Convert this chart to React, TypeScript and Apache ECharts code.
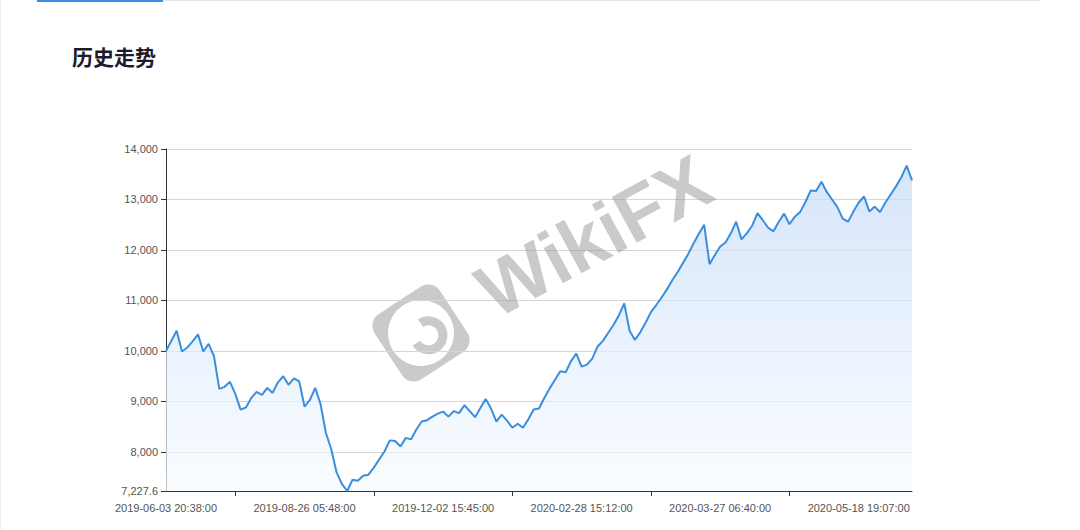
import React, { useEffect, useRef } from "react";
import * as echarts from "echarts";

const tickLabels = [
  "2019-06-03 20:38:00",
  "2019-08-26 05:48:00",
  "2019-12-02 15:45:00",
  "2020-02-28 15:12:00",
  "2020-03-27 06:40:00",
  "2020-05-18 19:07:00",
];

const values = [
  10000, 10200, 10400, 9990, 10070, 10190, 10330, 9990, 10140, 9900,
  9250, 9290, 9390, 9150, 8840, 8880, 9070, 9190, 9130, 9270,
  9170, 9380, 9500, 9330, 9460, 9400, 8897, 9030, 9270, 8950,
  8380, 8060, 7600, 7370, 7227.6, 7450, 7430, 7530, 7550, 7690,
  7850, 8010, 8230, 8217, 8110, 8280, 8250, 8450, 8605, 8630,
  8700, 8760, 8800, 8700, 8810, 8770, 8925, 8810, 8690, 8870,
  9050, 8860, 8600, 8740, 8620, 8480, 8560, 8480, 8650, 8840,
  8860, 9070, 9260, 9430, 9600, 9580, 9800, 9950, 9690, 9730,
  9850, 10090, 10200, 10360, 10520, 10710, 10940, 10400, 10220, 10370,
  10560, 10770, 10910, 11060, 11220, 11400, 11560, 11740, 11920, 12130,
  12320, 12500, 11720, 11900, 12070, 12150, 12330, 12560, 12210, 12330,
  12480, 12730, 12590, 12440, 12370, 12560, 12720, 12510, 12660, 12750,
  12950, 13180, 13170, 13350, 13150, 13000, 12850, 12620, 12560, 12760,
  12940, 13060, 12760, 12860, 12750, 12940, 13100, 13260, 13440, 13670,
  13380,
];

const labelEvery = 26;
const categories = values.map((_, i) =>
  i % labelEvery === 0 ? tickLabels[i / labelEvery] : "p" + i
);

const yMin = 7227.6;
const yMax = 14000;

export default function App() {
  const ref = useRef<HTMLDivElement>(null);
  useEffect(() => {
    if (!ref.current) return;
    const chart = echarts.init(ref.current, undefined, { renderer: "svg" });
    const wm = "rgba(150,150,150,0.5)";
    chart.setOption({
      animation: false,
      grid: { left: 166, right: 168, top: 149, bottom: 39 },
      xAxis: {
        type: "category",
        data: categories,
        boundaryGap: false,
        axisLine: { lineStyle: { color: "#333", width: 1 } },
        axisTick: {
          interval: (i: number) => i % labelEvery === labelEvery / 2,
          length: 5,
          lineStyle: { color: "#333" },
        },
        axisLabel: {
          interval: (i: number) => i % labelEvery === 0,
          color: "#555",
          fontSize: 11,
          fontFamily: "Liberation Sans",
          margin: 11,
        },
      },
      yAxis: {
        type: "value",
        min: yMin,
        max: yMax,
        axisLine: { show: true, lineStyle: { color: "#333" } },
        axisTick: { show: true, length: 5, lineStyle: { color: "#333" } },
        axisLabel: {
          color: "#555",
          fontSize: 11,
          fontFamily: "Liberation Sans",
          margin: 8,
        },
        splitLine: { lineStyle: { color: "#d6d6d6" } },
      },
      series: [
        {
          type: "line",
          data: values,
          showSymbol: false,
          symbol: "none",
          lineStyle: { color: "#3a8ee0", width: 2 },
          areaStyle: {
            color: new echarts.graphic.LinearGradient(0, 0, 0, 1, [
              { offset: 0, color: "#c6dbf8" },
              { offset: 1, color: "#f7fcff" },
            ]),
          },
        },
      ],
      graphic: [
        { type: "rect", left: 0, top: 0, shape: { width: 1, height: 530 }, style: { fill: "#efefef" } },
        { type: "rect", left: 37, top: 0, shape: { width: 1003, height: 1 }, style: { fill: "#e3e3e3" } },
        { type: "rect", left: 37, top: 0, shape: { width: 126, height: 2 }, style: { fill: "#3b8de0" } },
        {
          type: "text",
          x: 72,
          y: 56,
          style: {
            text: "历史走势",
            font: 'bold 21px "Noto Sans CJK SC"',
            fill: "#1a1c2c",
            textVerticalAlign: "middle",
            verticalAlign: "middle",
          },
        },
        {
          type: "group",
          x: 421,
          y: 333,
          rotation: 0.58,
          z: 100,
          children: [
            { type: "rect", shape: { x: -39, y: -39, width: 78, height: 78, r: 14 }, style: { fill: wm } },
            { type: "circle", shape: { cx: 0, cy: 0, r: 33 }, style: { fill: "#fff" } },
            {
              type: "sector",
              shape: { cx: 5, cy: 6, r: 19, r0: 10, startAngle: -Math.PI / 2, endAngle: Math.PI, clockwise: true },
              style: { fill: wm },
            },
          ],
        },
        {
          type: "text",
          x: 594,
          y: 236,
          rotation: 0.5,
          z: 100,
          style: {
            text: "WikiFX",
            font: 'bold 76px "Liberation Sans"',
            fill: wm,
            align: "center",
            verticalAlign: "middle",
          },
        },
      ],
    });
    return () => chart.dispose();
  }, []);
  return (
    <div
      ref={ref}
      style={{ position: "absolute", left: 0, top: 0, width: 1080, height: 530, background: "#fff" }}
    />
  );
}
